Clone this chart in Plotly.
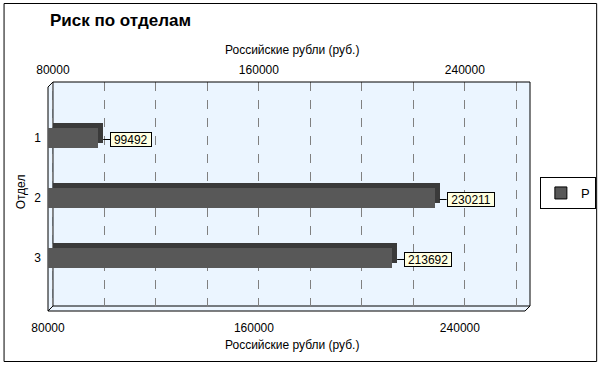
import plotly.graph_objects as go

# ---- data ----
departments = [1, 2, 3]
risk_values = [99492, 230211, 213692]
series_name = "Р"
tick_values = [80000, 160000, 240000]
axis_title = "Российские рубли (руб.)"
y_title = "Отдел"
chart_title = "Риск по отделам"

# ---- geometry (pixels) ----
FW, FH = 608, 366
L, R, T, B = 48, 72, 82, 55
W, H = FW - L - R, FH - T - B
UNITS_PER_PX = 160000 / 417.0
X0 = 80000
XMAX = X0 + W * UNITS_PER_PX
DEPTH = 5  # 3D depth in px
DX = DEPTH * UNITS_PER_PX
PX_PER_CAT = 60.0
Y_TOP = 1 - (137.5 - T) / PX_PER_CAT
Y_BOT = Y_TOP + H / PX_PER_CAT
DY = DEPTH / PX_PER_CAT
BAR_W = 20 / PX_PER_CAT


def px(xp):
    return (xp - L) / W


def py(yp):
    return 1 - (yp - T) / H


FONT = "Liberation Sans, Arial, sans-serif"

fig = go.Figure()

lengths = [v - X0 for v in risk_values]
# back (depth) bar -> gives top and side faces
fig.add_trace(go.Bar(
    y=[d - DY for d in departments], x=lengths, base=[X0 + DX] * len(lengths),
    orientation="h", width=BAR_W, marker=dict(color="#3a3a3a", line=dict(width=0)),
    showlegend=False, hoverinfo="skip"))
# front face
fig.add_trace(go.Bar(
    y=departments, x=lengths, base=[X0] * len(lengths),
    orientation="h", width=BAR_W, marker=dict(color="#585858", line=dict(width=0)),
    name=series_name, showlegend=False))
# legend entry
fig.add_trace(go.Scatter(
    x=[None], y=[None], mode="markers", name=series_name,
    marker=dict(symbol="square", size=12, color="#585858",
                line=dict(color="black", width=1)), showlegend=True))

# data labels
for d, v in zip(departments, risk_values):
    label = str(v)
    fig.add_annotation(
        x=v, y=d, xref="x", yref="y", text=label, showarrow=True,
        arrowhead=0, arrowwidth=1, arrowcolor="black", standoff=DEPTH,
        ax=12, ay=0, xanchor="left", yshift=-2,
        width=len(label) * 6.7 + 6, height=13, align="center",
        bgcolor="#FFFFE1", bordercolor="black", borderwidth=1, borderpad=0,
        font=dict(family=FONT, size=12, color="black"))

# titles
fig.add_annotation(x=px(48), y=py(21), xref="paper", yref="paper",
                   text="<b>%s</b>" % chart_title, showarrow=False,
                   xanchor="left", yanchor="middle",
                   font=dict(family=FONT, size=17, color="black"))
fig.add_annotation(x=px(295), y=py(50), xref="paper", yref="paper", text=axis_title,
                   showarrow=False, xanchor="center", yanchor="middle",
                   font=dict(family=FONT, size=12, color="black"))
fig.add_annotation(x=px(295), y=py(345), xref="paper", yref="paper", text=axis_title,
                   showarrow=False, xanchor="center", yanchor="middle",
                   font=dict(family=FONT, size=12, color="black"))
fig.add_annotation(x=px(21), y=py(192), xref="paper", yref="paper", text=y_title,
                   showarrow=False, textangle=-90, xanchor="center", yanchor="middle",
                   font=dict(family=FONT, size=12, color="black"))

# 3D frame shapes
line = dict(color="black", width=1)
shapes = [
    # white corner triangles
    dict(type="path", path="M %f,%f L %f,%f L %f,%f Z" % (px(48), py(82), px(53), py(82), px(48), py(87)),
         xref="paper", yref="paper", fillcolor="white", line=dict(width=0), layer="below"),
    dict(type="path", path="M %f,%f L %f,%f L %f,%f Z" % (px(536), py(306), px(536), py(311), px(531), py(311)),
         xref="paper", yref="paper", fillcolor="white", line=dict(width=0), layer="below"),
    # back wall edges
    dict(type="line", x0=px(53), y0=py(82), x1=px(536), y1=py(82), xref="paper", yref="paper", line=line),
    dict(type="line", x0=px(536), y0=py(82), x1=px(536), y1=py(306), xref="paper", yref="paper", line=line),
    dict(type="line", x0=px(53), y0=py(82), x1=px(53), y1=py(306), xref="paper", yref="paper", line=line, layer="below"),
    dict(type="line", x0=px(53), y0=py(306), x1=px(536), y1=py(306), xref="paper", yref="paper", line=line, layer="below"),
    # front edges
    dict(type="line", x0=px(48), y0=py(87), x1=px(48), y1=py(311), xref="paper", yref="paper", line=line, layer="below"),
    dict(type="line", x0=px(48), y0=py(311), x1=px(531), y1=py(311), xref="paper", yref="paper", line=line),
    # diagonals
    dict(type="line", x0=px(48), y0=py(87), x1=px(53), y1=py(82), xref="paper", yref="paper", line=line),
    dict(type="line", x0=px(48), y0=py(311), x1=px(53), y1=py(306), xref="paper", yref="paper", line=line),
    dict(type="line", x0=px(531), y0=py(311), x1=px(536), y1=py(306), xref="paper", yref="paper", line=line),
    # outer border
    dict(type="rect", x0=px(3.5), y0=py(361.5), x1=px(603.5), y1=py(3.5), xref="paper", yref="paper",
         line=line, fillcolor="rgba(0,0,0,0)"),
]

fig.update_layout(
    width=FW, height=FH,
    margin=dict(l=L, r=R, t=T, b=B, pad=0),
    paper_bgcolor="white", plot_bgcolor="#EBF5FF",
    barmode="overlay", bargap=0,
    font=dict(family=FONT, size=12, color="black"),
    shapes=shapes,
    showlegend=True,
    legend=dict(x=px(546), y=py(177), xanchor="left", yanchor="top",
                bordercolor="black", borderwidth=1, bgcolor="white",
                font=dict(family=FONT, size=13, color="black"), itemwidth=30),
    xaxis=dict(range=[X0, XMAX], tickvals=tick_values, ticktext=[str(v) for v in tick_values],
               showgrid=False, zeroline=False, showline=False, ticks="",
               side="bottom", ticklabelstandoff=8, fixedrange=True),
    xaxis2=dict(range=[X0 - DX, XMAX - DX], tickvals=tick_values,
                ticktext=[str(v) for v in tick_values], overlaying="x", side="top",
                anchor="y", showgrid=False, zeroline=False, showline=False, ticks="",
                ticklabelstandoff=5, fixedrange=True),
    xaxis3=dict(range=[X0 - DX, XMAX - DX], overlaying="x", anchor="y", dtick=20000, tick0=X0,
                showticklabels=False, showgrid=True, gridcolor="#808080", griddash="dash",
                gridwidth=1, zeroline=False, showline=False, ticks="", fixedrange=True),
    yaxis=dict(range=[Y_BOT, Y_TOP], tickvals=departments, ticktext=[str(d) for d in departments],
               showgrid=False, zeroline=False, showline=False, ticks="", ticklabelstandoff=6,
               fixedrange=True),
)
# invisible helper traces so overlay axes render
fig.add_trace(go.Scatter(x=[None], y=[None], xaxis="x2", yaxis="y", showlegend=False, hoverinfo="skip"))
fig.add_trace(go.Scatter(x=[None], y=[None], xaxis="x3", yaxis="y", showlegend=False, hoverinfo="skip"))

fig.write_html("out.html", config={"displayModeBar": False},
               post_script="document.body.style.margin='0px';")
